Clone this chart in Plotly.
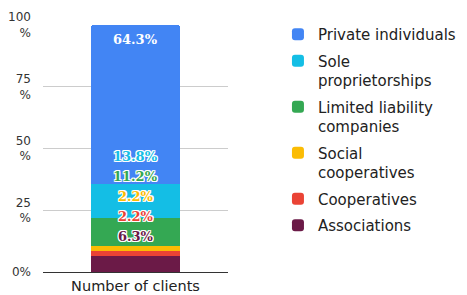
import plotly.graph_objects as go

category = ["Number of clients"]
series_names = ["Associations", "Cooperatives", "Social cooperatives",
                "Limited liability companies", "Sole proprietorships", "Private individuals"]
legend_names = ["Associations", "Cooperatives", "Social<br>cooperatives",
                "Limited liability<br>companies", "Sole<br>proprietorships", "Private individuals"]
shares = [6.3, 2.2, 2.2, 11.2, 13.8, 64.3]
colors = ["#6B1A47", "#EA4335", "#FBBC04", "#34A853", "#14BEE5", "#4285F4"]
tick_vals = [0, 25, 50, 75, 100]
tick_text = ["0%", "25<br>%", "50<br>%", "75<br>%", "100<br>%"]

n = len(shares)
fig = go.Figure()
for i, (name, lname, v, c) in enumerate(zip(series_names, legend_names, shares, colors)):
    fig.add_trace(go.Bar(
        x=category, y=[v], name=lname, marker=dict(color=c, line=dict(width=0)),
        legendgroup=f"g{i}", legendrank=n - i, width=0.48, hoverinfo="skip",
    ))

label_font = "DejaVu Serif"
outline = "1px 0 0 #fff, -1px 0 0 #fff, 0 1px 0 #fff, 0 -1px 0 #fff, 1px 1px 0 #fff, -1px -1px 0 #fff, 1px -1px 0 #fff, -1px 1px 0 #fff"
# small segments: labels stacked in a column above the base
for i in range(n - 1):
    fig.add_annotation(
        x=category[0], y=0, yref="y", text=f"{shares[i]}%", showarrow=False,
        yanchor="middle", yshift=36 + 20 * i,
        font=dict(family=label_font, size=13, color=colors[i], weight="bold", shadow=outline),
    )
# largest segment: label at the inside end
fig.add_annotation(
    x=category[0], y=sum(shares), yref="y", text=f"{shares[-1]}%", showarrow=False,
    yanchor="top", yshift=-5,
    font=dict(family=label_font, size=13, color="#ffffff", weight="bold"),
)

sans = "DejaVu Sans"
# the page body keeps its default 8px margin, so the figure is 8px smaller
fig.update_layout(
    width=459, height=287,
    margin=dict(l=35, r=239, t=17, b=23, autoexpand=False),
    barmode="stack", barcornerradius=3,
    paper_bgcolor="#ffffff", plot_bgcolor="#ffffff",
    font=dict(family=sans, color="#222222"),
    showlegend=True,
    legend=dict(
        x=1.27, xanchor="left", y=1.028, yanchor="top",
        traceorder="grouped", tracegroupgap=4, valign="top",
        maxheight=285,
        font=dict(family=sans, size=15, color="#222222"),
        bgcolor="rgba(0,0,0,0)",
    ),
    xaxis=dict(
        range=[-0.5, 0.5], showgrid=False, showline=False, zeroline=False,
        tickfont=dict(family=sans, size=14.5, color="#222222"), ticks="",
        ticklabelstandoff=3, automargin=False,
    ),
    yaxis=dict(
        range=[0, 100], tickvals=tick_vals, ticktext=tick_text,
        showgrid=True, gridcolor="#cccccc", gridwidth=1,
        zeroline=True, zerolinecolor="#333333", zerolinewidth=1,
        tickfont=dict(family=sans, size=12, color="#333333"), ticks="",
        ticklabelstandoff=11, automargin=False,
    ),
)

fig.write_html("out.html")
